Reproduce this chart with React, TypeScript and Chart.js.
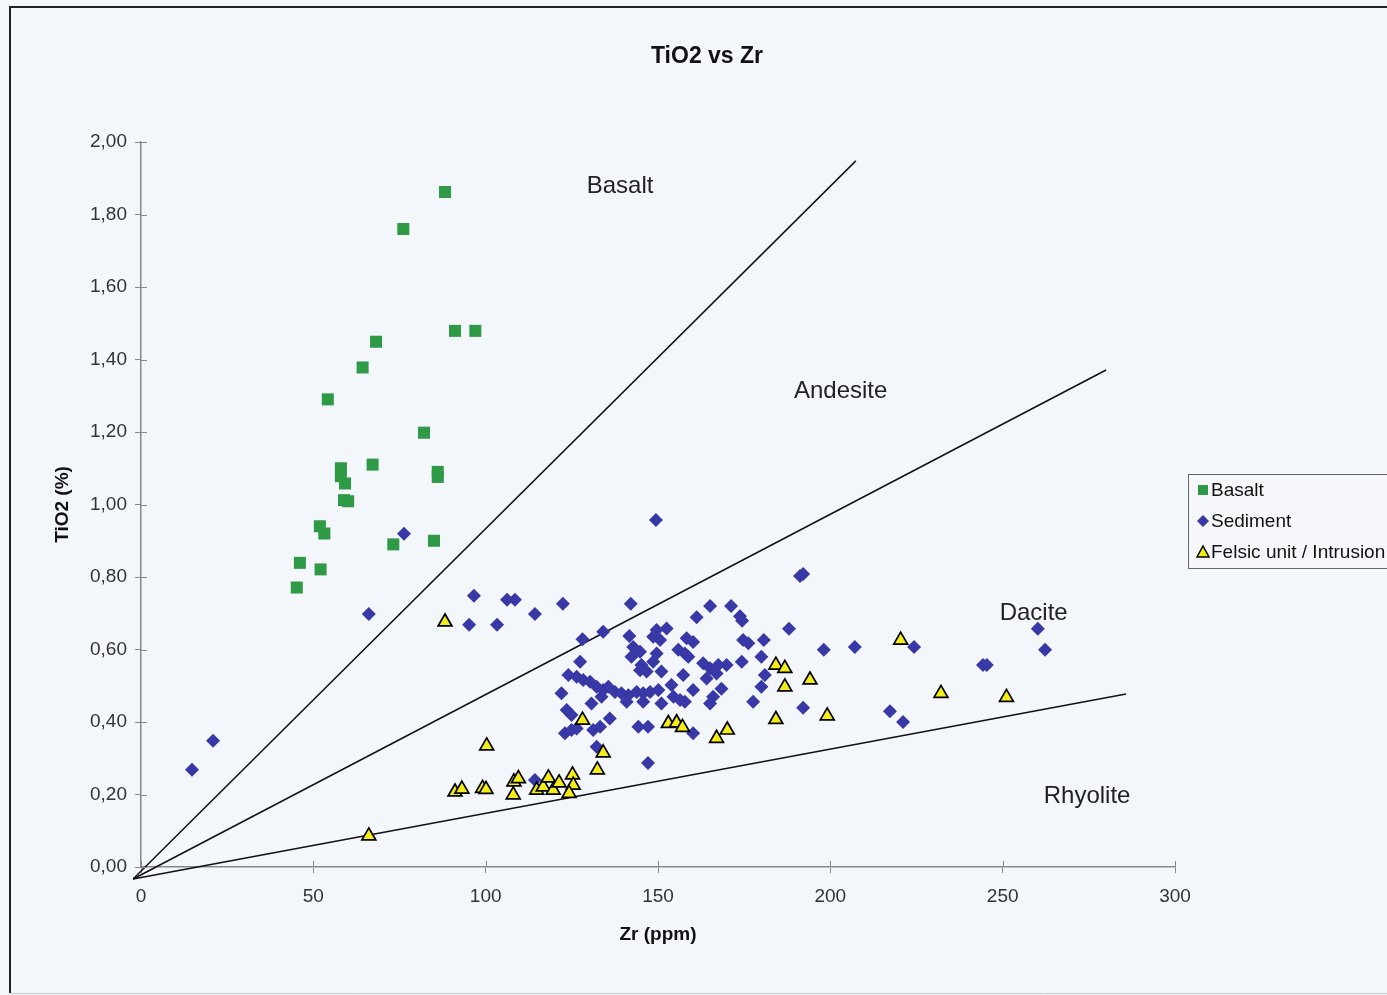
import React, { useEffect, useRef } from "react";
import { Chart, registerables } from "chart.js";

Chart.register(...registerables);

const chartTitle = "TiO2 vs Zr";
const xAxisTitle = "Zr (ppm)";
const yAxisTitle = "TiO2 (%)";
const seriesNames = ["Basalt", "Sediment", "Felsic unit / Intrusion"];
const regionLabels = ["Basalt", "Andesite", "Dacite", "Rhyolite"];
const regionLabelX = [139, 203, 259, 274.5];
const regionLabelY = [1.877, 1.313, 0.7, 0.195];

const basaltZr = [88.2, 76.1, 91.1, 97.0, 68.2, 64.3, 54.2, 82.1, 67.2, 58.0, 86.1, 86.1, 58.0, 59.2, 58.9, 60.1, 51.9, 53.2, 73.2, 85.0, 46.1, 52.1, 45.2];
const basaltTiO2 = [1.862, 1.76, 1.479, 1.479, 1.449, 1.378, 1.29, 1.198, 1.11, 1.1, 1.09, 1.076, 1.078, 1.058, 1.012, 1.009, 0.94, 0.92, 0.89, 0.9, 0.839, 0.821, 0.771];

const sedimentZr = [14.8, 20.9, 66.1, 76.3, 149.4, 191.2, 192.1, 96.6, 95.2, 103.3, 106.2, 108.5, 114.3, 122.4, 142.1, 165.1, 171.2, 173.8, 174.4, 180.7, 188.0, 198.1, 207.1, 224.3, 217.3, 221.1, 244.3, 245.4, 260.2, 262.3, 192.1, 147.1, 114.3, 128.1, 134.1, 127.4, 141.7, 161.2, 149.6, 152.5, 148.6, 150.6, 158.3, 160.2, 174.7, 176.2, 142.8, 144.8, 142.3, 149.6, 155.9, 157.8, 158.8, 148.6, 145.2, 144.8, 146.7, 151.0, 157.3, 163.1, 165.1, 167.5, 169.9, 167.0, 174.3, 180.0, 181.0, 180.0, 177.6, 124.0, 126.4, 128.3, 130.3, 132.2, 134.1, 135.6, 137.5, 139.4, 141.4, 143.8, 145.7, 147.7, 133.6, 130.7, 122.0, 140.9, 145.7, 151.0, 150.1, 154.5, 156.4, 157.8, 153.9, 160.2, 164.1, 165.1, 168.4, 166.0, 123.5, 124.9, 136.0, 131.2, 133.2, 123.0, 124.9, 126.4, 144.3, 147.1, 160.2, 132.2];
const sedimentTiO2 = [0.268, 0.348, 0.698, 0.919, 0.957, 0.803, 0.808, 0.748, 0.668, 0.668, 0.737, 0.737, 0.698, 0.726, 0.726, 0.72, 0.72, 0.692, 0.679, 0.626, 0.657, 0.599, 0.607, 0.607, 0.43, 0.4, 0.557, 0.557, 0.657, 0.599, 0.439, 0.287, 0.24, 0.628, 0.649, 0.566, 0.637, 0.689, 0.654, 0.658, 0.635, 0.626, 0.631, 0.621, 0.626, 0.617, 0.607, 0.594, 0.58, 0.589, 0.599, 0.589, 0.58, 0.566, 0.557, 0.543, 0.539, 0.539, 0.53, 0.562, 0.548, 0.557, 0.557, 0.534, 0.566, 0.58, 0.53, 0.497, 0.456, 0.53, 0.525, 0.516, 0.511, 0.497, 0.488, 0.497, 0.483, 0.479, 0.474, 0.483, 0.479, 0.483, 0.47, 0.451, 0.479, 0.456, 0.456, 0.451, 0.488, 0.47, 0.461, 0.456, 0.502, 0.488, 0.52, 0.451, 0.492, 0.47, 0.433, 0.419, 0.41, 0.378, 0.387, 0.369, 0.378, 0.382, 0.387, 0.387, 0.369, 0.332];

const felsicZr = [88.2, 66.1, 91.1, 93.1, 99.1, 100.1, 100.3, 108.2, 109.5, 108.0, 114.8, 116.7, 118.2, 119.6, 121.3, 125.2, 125.4, 124.2, 128.1, 134.1, 132.4, 153.0, 155.4, 157.1, 167.0, 170.1, 184.2, 184.2, 186.8, 186.8, 194.1, 199.1, 220.4, 232.1, 251.1];
const felsicTiO2 = [0.676, 0.086, 0.207, 0.215, 0.217, 0.214, 0.334, 0.235, 0.244, 0.199, 0.212, 0.221, 0.246, 0.212, 0.232, 0.254, 0.226, 0.203, 0.405, 0.315, 0.268, 0.396, 0.398, 0.385, 0.355, 0.378, 0.407, 0.557, 0.548, 0.497, 0.516, 0.417, 0.626, 0.479, 0.468];

// Field boundary lines: [start, end] as [Zr, TiO2]
const lineBasaltAndesite = [[-2.3, -0.033], [207.4, 1.948]];
const lineAndesiteDacite = [[-2.3, -0.033], [280.0, 1.371]];
const lineDaciteRhyolite = [[-2.3, -0.033], [285.8, 0.477]];

const xTicks = [0, 50, 100, 150, 200, 250, 300];
const yTicks = [0, 0.2, 0.4, 0.6, 0.8, 1.0, 1.2, 1.4, 1.6, 1.8, 2.0];

const GREEN = "#2f9a45";
const BLUE = "#3838a6";
const YELLOW = "#f4ec18";
const FONT = "'Liberation Sans', Arial, sans-serif";

const toPoints = (xs: number[], ys: number[]) => xs.map((x, i) => ({ x, y: ys[i] }));
const linePts = (l: number[][]) => l.map(([x, y]) => ({ x, y }));

const decorPlugin = {
  id: "decor",
  beforeDraw(chart: any) {
    const { ctx, width, height } = chart;
    ctx.save();
    ctx.fillStyle = "#f3f6fb";
    ctx.fillRect(0, 0, width, height);
    ctx.strokeStyle = "#222";
    ctx.lineWidth = 2;
    ctx.beginPath();
    ctx.moveTo(1400, 7);
    ctx.lineTo(10, 7);
    ctx.lineTo(10, 993);
    ctx.stroke();
    ctx.strokeStyle = "#c8ccd2";
    ctx.lineWidth = 1;
    ctx.beginPath();
    ctx.moveTo(10, 993.5);
    ctx.lineTo(1400, 993.5);
    ctx.stroke();
    ctx.restore();
  },
  afterDraw(chart: any) {
    const { ctx } = chart;
    const xs = chart.scales.x;
    const ys = chart.scales.y;
    ctx.save();
    // inner halves of the cross tick marks
    ctx.strokeStyle = "#888";
    ctx.lineWidth = 1;
    ctx.beginPath();
    xTicks.forEach((v) => {
      const px = Math.round(xs.getPixelForValue(v)) + 0.5;
      ctx.moveTo(px, ys.bottom);
      ctx.lineTo(px, ys.bottom - 6);
    });
    yTicks.forEach((v) => {
      const py = Math.round(ys.getPixelForValue(v)) + 0.5;
      ctx.moveTo(xs.left, py);
      ctx.lineTo(xs.left + 6, py);
    });
    ctx.stroke();

    // title
    ctx.fillStyle = "#111";
    ctx.font = `bold 23px ${FONT}`;
    ctx.textAlign = "center";
    ctx.textBaseline = "middle";
    ctx.fillText(chartTitle, 707, 57);

    // region labels
    ctx.font = `24px ${FONT}`;
    ctx.fillStyle = "#222";
    regionLabels.forEach((t, i) => {
      ctx.fillText(t, xs.getPixelForValue(regionLabelX[i]), ys.getPixelForValue(regionLabelY[i]));
    });

    // legend
    const lx = 1188, ly = 474, lw = 210, lh = 94;
    ctx.fillStyle = "#f5f7fb";
    ctx.fillRect(lx, ly, lw, lh);
    ctx.strokeStyle = "#666";
    ctx.lineWidth = 1;
    ctx.strokeRect(lx + 0.5, ly + 0.5, lw, lh);
    ctx.font = `19px ${FONT}`;
    ctx.textAlign = "left";
    ctx.textBaseline = "middle";
    const rows = [490, 521, 552];
    const mx = 1203;
    // square
    ctx.fillStyle = GREEN;
    ctx.fillRect(mx - 5, rows[0] - 5, 10, 10);
    // diamond
    ctx.fillStyle = BLUE;
    ctx.beginPath();
    ctx.moveTo(mx, rows[1] - 6);
    ctx.lineTo(mx + 6, rows[1]);
    ctx.lineTo(mx, rows[1] + 6);
    ctx.lineTo(mx - 6, rows[1]);
    ctx.closePath();
    ctx.fill();
    // triangle
    ctx.fillStyle = YELLOW;
    ctx.strokeStyle = "#000";
    ctx.lineWidth = 1.5;
    ctx.beginPath();
    ctx.moveTo(mx, rows[2] - 6);
    ctx.lineTo(mx + 6, rows[2] + 5);
    ctx.lineTo(mx - 6, rows[2] + 5);
    ctx.closePath();
    ctx.fill();
    ctx.stroke();
    ctx.fillStyle = "#111";
    seriesNames.forEach((n, i) => ctx.fillText(n, 1211, rows[i] + 1));
    ctx.restore();
  },
};

export default function App() {
  const ref = useRef<HTMLCanvasElement | null>(null);
  useEffect(() => {
    if (!ref.current) return;
    const lineStyle = {
      type: "line" as const,
      showLine: true,
      borderColor: "#111",
      borderWidth: 1.5,
      pointRadius: 0,
      fill: false,
      clip: false as any,
      order: 4,
    };
    const chart = new Chart(ref.current, {
      type: "scatter",
      data: {
        datasets: [
          { ...lineStyle, label: "l1", data: linePts(lineBasaltAndesite) },
          { ...lineStyle, label: "l2", data: linePts(lineAndesiteDacite) },
          { ...lineStyle, label: "l3", data: linePts(lineDaciteRhyolite) },
          {
            label: seriesNames[0],
            data: toPoints(basaltZr, basaltTiO2),
            pointStyle: "rect",
            pointRadius: 8.5,
            backgroundColor: GREEN,
            borderColor: GREEN,
            borderWidth: 0,
            order: 3,
          },
          {
            label: seriesNames[1],
            data: toPoints(sedimentZr, sedimentTiO2),
            pointStyle: "rectRot",
            pointRadius: 7,
            backgroundColor: BLUE,
            borderColor: BLUE,
            borderWidth: 0,
            order: 2,
          },
          {
            label: seriesNames[2],
            data: toPoints(felsicZr, felsicTiO2),
            pointStyle: "triangle",
            pointRadius: 8,
            backgroundColor: YELLOW,
            borderColor: "#000",
            borderWidth: 1.7,
            order: 1,
          },
        ],
      },
      options: {
        animation: false,
        responsive: false,
        layout: { padding: { left: 47, right: 212, top: 142, bottom: 45 } },
        plugins: {
          legend: { display: false },
          title: { display: false },
          tooltip: { enabled: false },
        },
        scales: {
          x: {
            type: "linear",
            min: 0,
            max: 300,
            afterFit: (s: any) => {
              s.height = 83;
            },
            afterBuildTicks: (s: any) => {
              s.ticks = xTicks.map((v) => ({ value: v }));
            },
            border: { color: "#888", width: 1.5 },
            grid: { drawOnChartArea: false, drawTicks: true, tickLength: 6, color: "#888" },
            ticks: {
              color: "#333",
              padding: 12,
              maxRotation: 0,
              font: { family: FONT, size: 19 },
            },
            title: {
              display: true,
              text: xAxisTitle,
              color: "#111",
              font: { family: FONT, size: 19, weight: "bold" },
              padding: { top: 4, bottom: 4 },
            },
          },
          y: {
            type: "linear",
            min: 0,
            max: 2,
            afterFit: (s: any) => {
              s.width = 94;
            },
            afterBuildTicks: (s: any) => {
              s.ticks = yTicks.map((v) => ({ value: v }));
            },
            border: { color: "#888", width: 1.5 },
            grid: { drawOnChartArea: false, drawTicks: true, tickLength: 6, color: "#888" },
            ticks: {
              color: "#333",
              padding: 8,
              font: { family: FONT, size: 19 },
              callback: (v: any) => Number(v).toFixed(2).replace(".", ","),
            },
            title: {
              display: true,
              text: yAxisTitle,
              color: "#111",
              font: { family: FONT, size: 19, weight: "bold" },
              padding: { top: 4, bottom: 4 },
            },
          },
        },
      },
      plugins: [decorPlugin],
    });
    return () => chart.destroy();
  }, []);

  return (
    <div style={{ position: "absolute", left: 0, top: 0, width: 1387, height: 995 }}>
      <canvas ref={ref} width={1387} height={995} style={{ width: 1387, height: 995, display: "block" }} />
    </div>
  );
}
